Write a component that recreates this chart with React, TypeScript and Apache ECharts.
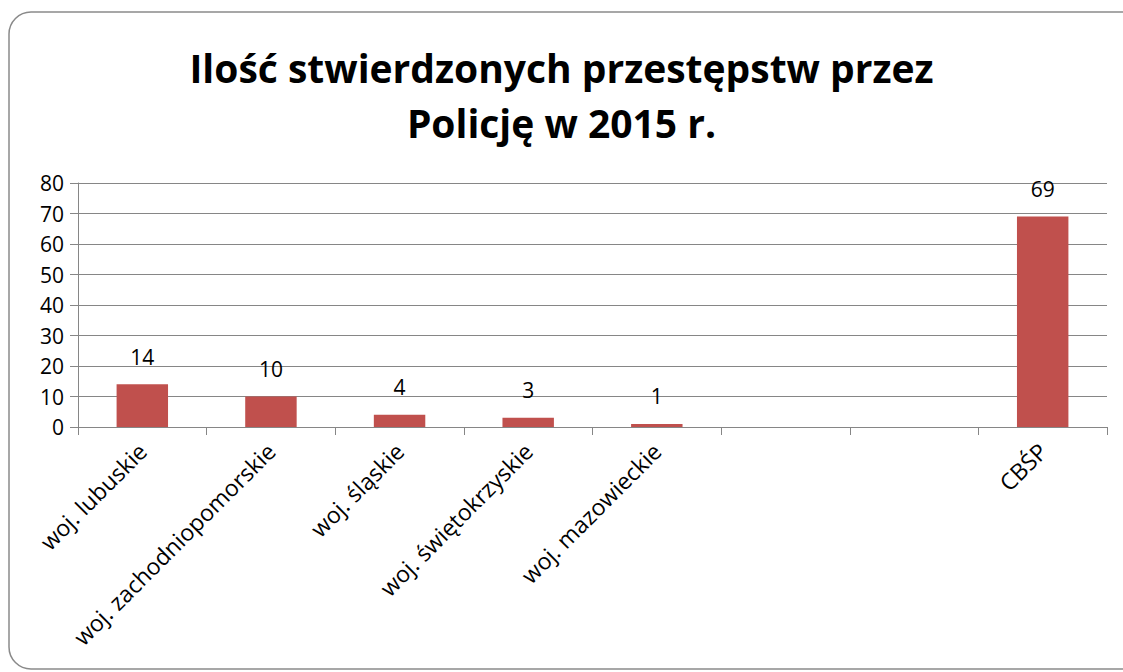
import React, { useEffect, useRef } from "react";
import * as echarts from "echarts";

const categories = [
  "woj. lubuskie",
  "woj. zachodniopomorskie",
  "woj. śląskie",
  "woj. świętokrzyskie",
  "woj. mazowieckie",
  "",
  "",
  "CBŚP",
];
const values: (number | null)[] = [14, 10, 4, 3, 1, null, null, 69];
const titleLines = ["Ilość stwierdzonych przestępstw przez", "Policję w 2015 r."];

const FONT = "'Open Sans', 'Noto Sans', sans-serif";

export default function App() {
  const ref = useRef<HTMLDivElement>(null);
  useEffect(() => {
    document.body.style.margin = "0";
    const chart = echarts.init(ref.current!, undefined, { renderer: "svg" });
    chart.setOption({
      animation: false,
      backgroundColor: "#ffffff",
      title: {
        text: titleLines.join("\n"),
        left: "center",
        top: 35,
        textStyle: {
          fontFamily: FONT,
          fontWeight: "bold",
          fontSize: 39,
          lineHeight: 55,
          color: "#000",
        },
      },
      graphic: [
        {
          type: "rect",
          shape: { x: 9, y: 12, width: 1140, height: 657, r: 22 },
          style: { fill: "none", stroke: "#8a8a8a", lineWidth: 1.5 },
          silent: true,
          z: -1,
        },
      ],
      grid: { left: 78, right: 16, top: 183, bottom: 245, containLabel: false },
      xAxis: {
        type: "category",
        data: categories,
        axisLine: { lineStyle: { color: "#868686", width: 1 } },
        axisTick: { show: true, length: 8, alignWithLabel: false, lineStyle: { color: "#868686" } },
        axisLabel: {
          interval: 0,
          rotate: 45,
          fontFamily: FONT,
          fontSize: 23,
          color: "#000",
          margin: 20,
        },
      },
      yAxis: {
        type: "value",
        min: 0,
        max: 80,
        interval: 10,
        axisLine: { show: true, lineStyle: { color: "#868686" } },
        axisTick: { show: true, length: 8, lineStyle: { color: "#868686" } },
        splitLine: { lineStyle: { color: "#868686", width: 1 } },
        axisLabel: { fontFamily: FONT, fontSize: 21, color: "#000", margin: 14 },
      },
      series: [
        {
          type: "bar",
          data: values,
          barWidth: "40%",
          itemStyle: { color: "#c0504d" },
          label: {
            show: true,
            position: "top",
            distance: 17,
            fontFamily: FONT,
            fontSize: 21,
            color: "#000",
          },
        },
      ],
    });
    return () => chart.dispose();
  }, []);
  return <div ref={ref} style={{ width: 1123, height: 672 }} />;
}
